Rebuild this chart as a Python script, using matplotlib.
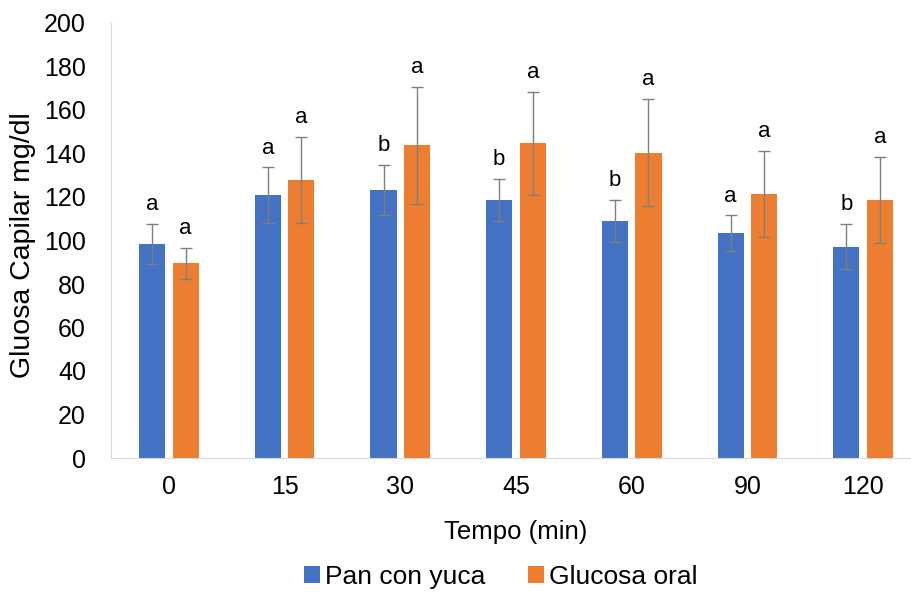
import matplotlib
matplotlib.use("Agg")
import matplotlib.pyplot as plt
import numpy as np

plt.rcParams['font.family'] = ['Liberation Sans', 'DejaVu Sans']

# data
tiempos = ["0", "15", "30", "45", "60", "90", "120"]
pan_yuca = [98.4, 120.9, 123.2, 118.6, 109.0, 103.4, 97.2]
pan_err = [9.1, 12.7, 11.4, 9.5, 9.8, 8.1, 10.3]
glucosa = [89.5, 127.8, 143.8, 144.7, 140.4, 121.4, 118.6]
glu_err = [7.0, 19.9, 27.0, 23.7, 24.5, 19.6, 19.9]
letras_pan = ["a", "a", "b", "b", "b", "a", "b"]
letras_glu = ["a", "a", "a", "a", "a", "a", "a"]

azul = "#4472C4"
naranja = "#ED7D31"

fig = plt.figure(figsize=(9.11, 5.94), dpi=100)
ax = fig.add_axes([111/911, 136/594, 810/911, 435/594])

x = np.arange(len(tiempos))
w = 0.225
off = 0.145
ekw = dict(ecolor="#7f7f7f", elinewidth=1, capsize=4, capthick=1)

ax.bar(x - off, pan_yuca, w, color=azul, yerr=pan_err, error_kw=ekw, label="Pan con yuca")
ax.bar(x + off, glucosa, w, color=naranja, yerr=glu_err, error_kw=ekw, label="Glucosa oral")

# significance letters
for i in range(len(tiempos)):
    ax.annotate(letras_pan[i], (x[i] - off, pan_yuca[i] + pan_err[i]), xytext=(0, 10),
                textcoords="offset points", ha="center", va="baseline", fontsize=16)
    ax.annotate(letras_glu[i], (x[i] + off, glucosa[i] + glu_err[i]), xytext=(0, 10),
                textcoords="offset points", ha="center", va="baseline", fontsize=16)

ax.set_xlim(-0.5, len(tiempos) - 0.5)
ax.set_ylim(0, 200)
ax.set_yticks(range(0, 201, 20))
ax.set_xticks(x)
ax.set_xticklabels(tiempos)
ax.tick_params(axis="both", length=0, labelsize=18, colors="#000000")
ax.tick_params(axis="y", pad=18)
ax.tick_params(axis="x", pad=12)

for s in ["top", "right"]:
    ax.spines[s].set_visible(False)
ax.spines["left"].set_color("#d9d9d9")
ax.spines["bottom"].set_color("#d9d9d9")

ax.set_ylabel("Gluosa Capilar mg/dl", fontsize=20.5)
ax.yaxis.set_label_coords(-0.092, 0.49)
ax.set_xlabel("Tempo (min)", fontsize=18.5)
ax.xaxis.set_label_coords(0.5, -0.142)

fig.legend(loc="center", bbox_to_anchor=(501/911, 1 - 577/594), ncol=2, frameon=False,
           fontsize=19, handlelength=0.6, handleheight=0.6, handletextpad=0.2, columnspacing=1.6,
           borderpad=0.1)

fig.savefig("out.png", dpi=100)
